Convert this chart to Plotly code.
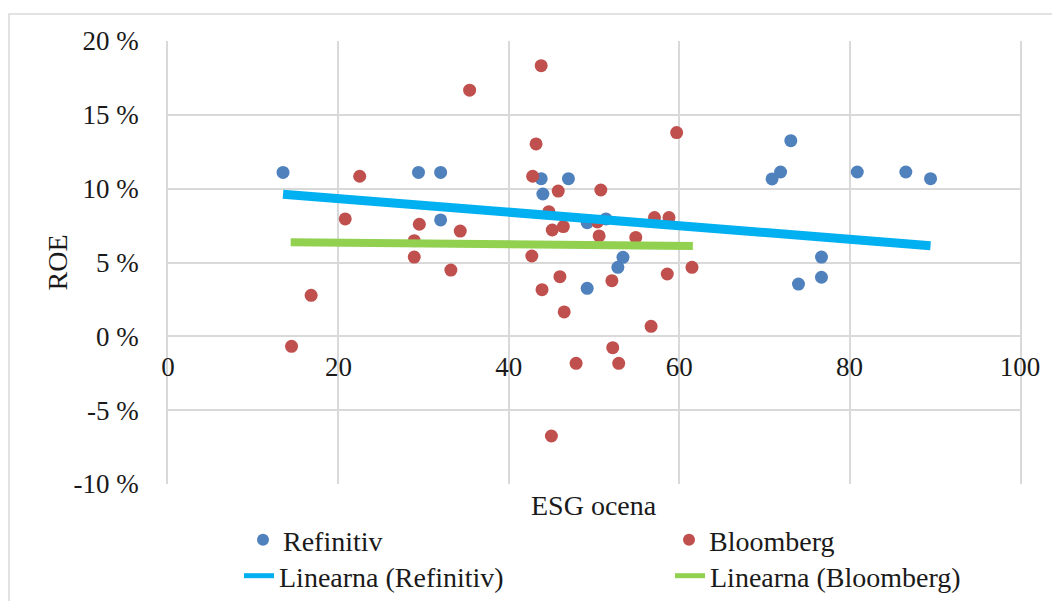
import plotly.graph_objects as go

# ---- data ----
refinitiv_esg = [13.5, 29.4, 32.0, 32.0, 43.8, 47.0, 44.0, 49.2, 51.4, 53.4, 52.8,
                 49.2, 73.1, 71.9, 70.9, 80.9, 86.6, 89.5, 76.7, 76.7, 74.0]
refinitiv_roe = [11.1, 11.1, 11.1, 7.88, 10.68, 10.68, 9.64, 7.70, 7.95, 5.35, 4.67,
                 3.25, 13.25, 11.13, 10.66, 11.13, 11.13, 10.68, 5.37, 4.0, 3.54]

bloomberg_esg = [43.8, 35.4, 43.2, 22.5, 42.8, 45.8, 50.8, 20.8, 29.5, 34.3, 44.7,
                 45.1, 46.4, 50.6, 28.9, 28.9, 33.2, 42.7, 46.0, 50.4, 57.1, 58.8,
                 54.9, 43.9, 46.5, 52.1, 58.6, 61.5, 59.7, 56.7, 52.2, 47.9, 52.9,
                 45.0, 16.8, 14.5]
bloomberg_roe = [18.33, 16.67, 13.03, 10.84, 10.84, 9.84, 9.91, 7.95, 7.59, 7.13, 8.44,
                 7.20, 7.43, 6.80, 6.48, 5.37, 4.49, 5.44, 4.04, 7.75, 8.04, 8.04,
                 6.70, 3.16, 1.65, 3.77, 4.22, 4.67, 13.80, 0.68, -0.77, -1.83, -1.83,
                 -6.75, 2.78, -0.68]

# linear trend lines as drawn in the reference (end points)
trend_refinitiv_x = [13.5, 89.5]
trend_refinitiv_y = [9.62, 6.14]
trend_bloomberg_x = [14.4, 61.6]
trend_bloomberg_y = [6.37, 6.12]

x_ticks = [0, 20, 40, 60, 80, 100]
y_ticks = [20, 15, 10, 5, 0, -5, -10]
y_tick_labels = ["20 %", "15 %", "10 %", "5 %", "0 %", "-5 %", "-10 %"]

FONT = "Liberation Serif, Times New Roman, serif"
GRID = "#d9d9d9"
TXT = "#1a1a1a"

W, H = 1052, 601
L, R, T, B = 168, 32, 41, 117
pw, ph = W - L - R, H - T - B


def px_x(p):
    return (p - L) / pw


def px_y(p):
    return (T + ph - p) / ph


fig = go.Figure()
fig.add_trace(go.Scatter(x=refinitiv_esg, y=refinitiv_roe, mode="markers", name="Refinitiv",
                         marker=dict(size=13, color="#4F81BD"), legend="legend"))
fig.add_trace(go.Scatter(x=bloomberg_esg, y=bloomberg_roe, mode="markers", name="Bloomberg",
                         marker=dict(size=13, color="#C0504D"), legend="legend2"))
fig.add_trace(go.Scatter(x=trend_refinitiv_x, y=trend_refinitiv_y, mode="lines",
                         name="Linearna (Refinitiv)",
                         line=dict(color="#00B0F0", width=9), legend="legend3"))
fig.add_trace(go.Scatter(x=trend_bloomberg_x, y=trend_bloomberg_y, mode="lines",
                         name="Linearna (Bloomberg)",
                         line=dict(color="#92D050", width=8), legend="legend4"))


def leg(text_start_px, center_y_px):
    return dict(orientation="v", xref="container", yref="container",
                x=(text_start_px - 40) / W, xanchor="left",
                y=1 - center_y_px / H, yanchor="middle",
                font=dict(family=FONT, size=28, color=TXT), bgcolor="rgba(0,0,0,0)",
                borderwidth=0, itemsizing="constant")


fig.update_layout(
    width=W, height=H,
    margin=dict(l=L, r=R, t=T, b=B, pad=0, autoexpand=False),
    paper_bgcolor="white", plot_bgcolor="white",
    font=dict(family=FONT, size=27, color=TXT),
    xaxis=dict(range=[0, 100], tickvals=x_ticks, showgrid=True, gridcolor=GRID, gridwidth=1.5,
               zeroline=False, showline=False, anchor="free", position=(0 - (-10)) / 30,
               ticks="", ticklabelstandoff=12, tickfont=dict(family=FONT, size=27, color=TXT),
               fixedrange=True),
    yaxis=dict(range=[-10, 20], tickvals=y_ticks, ticktext=y_tick_labels, showgrid=True,
               gridcolor=GRID, gridwidth=1.5, zeroline=False, showline=True, mirror=True,
               linecolor=GRID, linewidth=1.5, ticks="", ticklabelstandoff=22,
               tickfont=dict(family=FONT, size=27, color=TXT), fixedrange=True),
    legend=leg(283, 540),
    legend2=leg(709, 540),
    legend3=leg(279, 576),
    legend4=leg(710, 576),
    showlegend=True,
    annotations=[
        dict(text="ESG ocena", xref="paper", yref="paper", x=px_x(594), y=px_y(506),
             xanchor="center", yanchor="middle", showarrow=False,
             font=dict(family=FONT, size=28, color=TXT)),
        dict(text="ROE", xref="paper", yref="paper", x=px_x(57), y=0.5, textangle=-90,
             xanchor="center", yanchor="middle", showarrow=False,
             font=dict(family=FONT, size=28, color=TXT)),
    ],
    shapes=[
        dict(type="rect", xref="paper", yref="paper", x0=px_x(9), x1=px_x(W + 20),
             y0=px_y(H + 20), y1=px_y(14),
             line=dict(color=GRID, width=1.5), fillcolor="rgba(0,0,0,0)", layer="below"),
    ],
)

fig.write_html("out.html")
